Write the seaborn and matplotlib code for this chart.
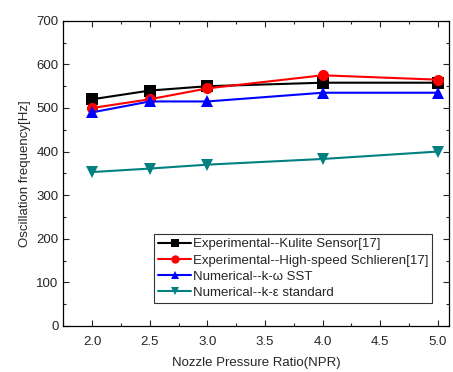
import numpy as np
import pandas as pd
import matplotlib
matplotlib.use('Agg')
import matplotlib.pyplot as plt
import seaborn as sns
from matplotlib.ticker import MultipleLocator

sns.set_theme(style='ticks')
plt.rcParams['font.family'] = ['Liberation Sans', 'DejaVu Sans']

# data
npr = [2.0, 2.5, 3.0, 4.0, 5.0]
kulite = [520, 540, 550, 558, 558]
schlieren = [500, 520, 545, 575, 565]
kw_sst = [490, 515, 515, 535, 535]
ke_std = [353, 361, 370, 383, 400]

labels = ['Experimental--Kulite Sensor[17]',
          'Experimental--High-speed Schlieren[17]',
          'Numerical--k-\u03c9 SST',
          'Numerical--k-\u03b5 standard']
colors = ['black', 'red', 'blue', '#008080']
markers = ['s', 'o', '^', 'v']

df = pd.DataFrame({
    'NPR': npr * 4,
    'freq': kulite + schlieren + kw_sst + ke_std,
    'series': [l for l in labels for _ in npr],
})

fig, ax = plt.subplots(figsize=(4.53, 3.72), dpi=100)
sns.lineplot(data=df, x='NPR', y='freq', hue='series', style='series',
             hue_order=labels, style_order=labels,
             palette=colors, markers=markers, dashes=False,
             markersize=8, markeredgewidth=0, linewidth=1.5, ax=ax)

ax.set_xlim(1.75, 5.1)
ax.set_ylim(0, 700)
ax.xaxis.set_major_locator(MultipleLocator(0.5))
ax.xaxis.set_minor_locator(MultipleLocator(0.25))
ax.yaxis.set_major_locator(MultipleLocator(100))
ax.yaxis.set_minor_locator(MultipleLocator(50))
ax.xaxis.set_major_formatter(matplotlib.ticker.FormatStrFormatter('%.1f'))
ax.tick_params(which='both', direction='in', top=True, right=True,
               labelsize=9.5, width=0.8)
ax.tick_params(which='major', length=4)
ax.tick_params(which='minor', length=2)
ax.tick_params(axis='x', pad=7)
for s in ax.spines.values():
    s.set_linewidth(0.9)
    s.set_color('black')

ax.set_xlabel('Nozzle Pressure Ratio(NPR)', fontsize=9.5, labelpad=7)
ax.set_ylabel('Oscillation frequency[Hz]', fontsize=9.5)

leg = ax.legend(loc='lower right', bbox_to_anchor=(0.955, 0.075), fontsize=9.5,
                frameon=True, fancybox=False, edgecolor='black',
                borderpad=0.3, labelspacing=0.3, handlelength=2.5,
                handletextpad=0.1, borderaxespad=0)
leg.get_frame().set_linewidth(0.8)
for h in leg.legend_handles:
    h.set_markersize(6)

fig.subplots_adjust(left=0.14, right=0.992, top=0.944, bottom=0.124)
plt.savefig('out.png', dpi=100)
plt.close()
